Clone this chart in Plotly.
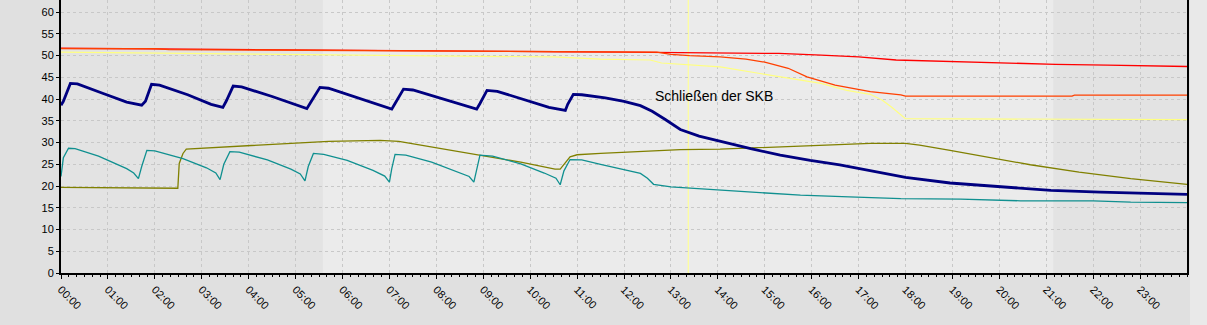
import plotly.graph_objects as go

# ---------------- data (hours of day, values) ----------------
hour_ticks = list(range(24))
hour_labels = [f"{h:02d}:00" for h in hour_ticks]

navy_t = [0.0, 0.05, 0.2, 0.35, 0.9, 1.4, 1.72, 1.8, 1.93, 2.1, 2.7, 3.2, 3.45, 3.52, 3.67, 3.85,
          4.5, 5.0, 5.24, 5.32, 5.52, 5.7, 6.3, 6.8, 7.05, 7.12, 7.3, 7.5, 8.1, 8.6, 8.86, 8.93,
          9.08, 9.3, 9.9, 10.4, 10.75, 10.8, 10.92, 11.1, 11.6, 12.0, 12.35, 12.6, 12.88, 13.2,
          13.6, 14.05, 14.7, 15.33, 15.97, 16.6, 17.25, 18.0, 18.95, 20.0, 21.1, 22.15, 23.2, 24.0]
navy_v = [38.6, 39.5, 43.6, 43.5, 41.3, 39.3, 38.6, 39.5, 43.4, 43.2, 41.0, 38.8, 38.1, 39.5, 43.0, 42.8,
          40.6, 38.6, 37.8, 39.2, 42.7, 42.5, 40.4, 38.5, 37.7, 39.0, 42.3, 42.1, 40.1, 38.4, 37.7, 39.0,
          42.0, 41.8, 39.8, 38.1, 37.4, 38.8, 41.1, 41.0, 40.3, 39.5, 38.5, 37.2, 35.3, 33.0,
          31.5, 30.3, 28.6, 27.1, 25.9, 24.9, 23.6, 22.0, 20.7, 19.8, 19.0, 18.6, 18.4, 18.1]

teal_t = [0.0, 0.05, 0.16, 0.3, 0.8, 1.4, 1.55, 1.65, 1.72, 1.83, 2.0, 2.6, 3.1, 3.3, 3.39, 3.47,
          3.6, 3.8, 4.4, 4.9, 5.1, 5.2, 5.27, 5.38, 5.6, 6.1, 6.65, 6.9, 7.0, 7.05, 7.12, 7.35,
          7.9, 8.4, 8.7, 8.8, 8.86, 8.93, 9.2, 9.8, 10.3, 10.55, 10.64, 10.72, 10.85, 11.1, 11.5,
          11.92, 12.35, 12.5, 12.63, 13.0, 13.6, 14.05, 14.9, 15.76, 16.8, 17.9, 19.17, 20.45,
          22.0, 22.8, 24.0]
teal_v = [22.2, 26.5, 28.7, 28.6, 26.9, 24.0, 23.0, 21.7, 24.5, 28.2, 28.1, 26.3, 24.2, 23.0, 21.5, 25.0,
          27.9, 27.8, 26.0, 23.9, 22.8, 21.2, 24.5, 27.5, 27.3, 25.9, 23.6, 22.3, 20.9, 24.0, 27.3, 27.1,
          25.5, 23.4, 22.2, 20.9, 24.0, 27.1, 26.9, 25.1, 23.0, 21.8, 20.3, 23.5, 26.1, 26.0, 25.0,
          24.0, 22.9, 21.8, 20.4, 19.8, 19.4, 19.0, 18.6, 17.9, 17.5, 17.1, 17.0, 16.6,
          16.6, 16.3, 16.2]

olive_t = [0.0, 1.0, 2.0, 2.49, 2.52, 2.6, 2.67, 3.5, 4.67, 5.7, 6.8, 7.2, 7.45, 7.87, 8.5, 9.15,
           9.8, 10.53, 10.64, 10.85, 11.0, 11.5, 11.92, 12.56, 13.2, 14.05, 14.9, 15.76, 16.8,
           17.25, 18.0, 18.3, 18.95, 19.8, 20.66, 21.7, 22.8, 24.0]
olive_v = [19.7, 19.6, 19.5, 19.5, 25.2, 27.5, 28.5, 29.0, 29.8, 30.3, 30.5, 30.3, 29.8, 29.0, 27.9, 26.7,
           25.5, 23.9, 23.9, 26.7, 27.2, 27.5, 27.7, 28.1, 28.4, 28.5, 28.8, 29.2, 29.5,
           29.8, 29.8, 29.4, 28.2, 26.6, 24.9, 23.2, 21.7, 20.4]

red_t = [0.0, 2.2, 5.0, 8.0, 10.6, 12.0, 13.4, 15.3, 16.2, 17.0, 17.8, 18.7, 19.7, 20.3, 21.2,
         22.3, 23.4, 24.0]
red_v = [51.7, 51.5, 51.3, 51.1, 50.9, 50.8, 50.7, 50.5, 50.1, 49.7, 49.0, 48.7, 48.5, 48.3, 48.0,
         47.8, 47.6, 47.5]

orange_t = [0.0, 2.0, 2.3, 12.7, 13.0, 13.4, 14.05, 14.6, 15.0, 15.5, 15.9, 16.5, 17.25, 17.9,
            18.0, 21.55, 21.6, 24.0]
orange_v = [51.6, 51.6, 51.4, 50.8, 50.3, 50.0, 49.7, 49.2, 48.5, 47.1, 45.1, 43.2, 41.7, 41.0,
            40.7, 40.7, 40.9, 40.9]

yellow_t = [0.0, 5.0, 10.5, 11.5, 12.56, 12.8, 13.6, 14.05, 14.9, 15.76, 16.2, 16.75, 17.25,
            17.5, 17.7, 18.0, 24.0]
yellow_v = [50.8, 50.3, 49.7, 49.2, 49.0, 48.3, 47.8, 47.4, 45.9, 44.3, 43.6, 42.0, 41.1,
            39.8, 38.2, 35.5, 35.3]

event_hour = 13.37
event_text = "Schließen der SKB"
event_x, event_y = 12.62, 40.7

night_bands = [(0.0, 5.58), (21.15, 24.0)]

# ---------------- figure ----------------
fig = go.Figure()

series = [
    (yellow_t, yellow_v, "#ffff80", 1.2),
    (red_t, red_v, "#ff0000", 1.3),
    (orange_t, orange_v, "#ff4000", 1.3),
    (olive_t, olive_v, "#808000", 1.3),
    (teal_t, teal_v, "#109090", 1.3),
    (navy_t, navy_v, "#000080", 2.8),
]
for t, v, c, w in series:
    fig.add_trace(go.Scatter(x=t, y=v, mode="lines", line=dict(color=c, width=w),
                             hoverinfo="skip", showlegend=False))

shapes = []
for a, b in night_bands:
    shapes.append(dict(type="rect", xref="x", yref="paper", x0=a, x1=b, y0=0, y1=1,
                       fillcolor="#e3e3e3", line=dict(width=0), layer="below"))
shapes.append(dict(type="line", xref="x", yref="paper", x0=event_hour, x1=event_hour, y0=0, y1=1,
                   line=dict(color="#ffff99", width=1.2), layer="below"))
# light strip at right border of the control
shapes.append(dict(type="rect", xref="paper", yref="paper", x0=(1190 - 61) / 1126, x1=(1210 - 61) / 1126,
                   y0=-60 / 273, y1=1.05, fillcolor="#e9e9e9", line=dict(width=0), layer="below"))

fig.update_layout(
    width=1207, height=325,
    margin=dict(l=61, r=20, t=0, b=52),
    paper_bgcolor="#e0e0e0",
    plot_bgcolor="#ebebeb",
    shapes=shapes,
    font=dict(family="Liberation Sans, Arial, sans-serif", size=11, color="black"),
    annotations=[dict(x=event_x, y=event_y, xref="x", yref="y", text=event_text, showarrow=False,
                      xanchor="left", yanchor="middle",
                      font=dict(family="Liberation Sans, Arial, sans-serif", size=14, color="black"))],
)

fig.update_xaxes(
    range=[0, 24], tickvals=hour_ticks, ticktext=hour_labels, tickangle=45,
    showline=True, linecolor="black", linewidth=2, mirror=False,
    ticks="outside", ticklen=4, tickcolor="black", tickwidth=1,
    minor=dict(dtick=1 / 6, ticks="outside", ticklen=2, tickcolor="black", showgrid=False),
    showgrid=True, gridcolor="#c8c8c8", griddash="3px,3px", gridwidth=1,
    zeroline=False, tickfont=dict(size=11),
)
fig.update_yaxes(
    range=[0, 62.8], tick0=0, dtick=5,
    showline=True, linecolor="black", linewidth=2, mirror=True,
    ticks="outside", ticklen=3, tickcolor="black",
    showgrid=True, gridcolor="#c8c8c8", griddash="3px,3px", gridwidth=1,
    zeroline=False, tickfont=dict(size=11),
)

fig.write_html("out.html")
